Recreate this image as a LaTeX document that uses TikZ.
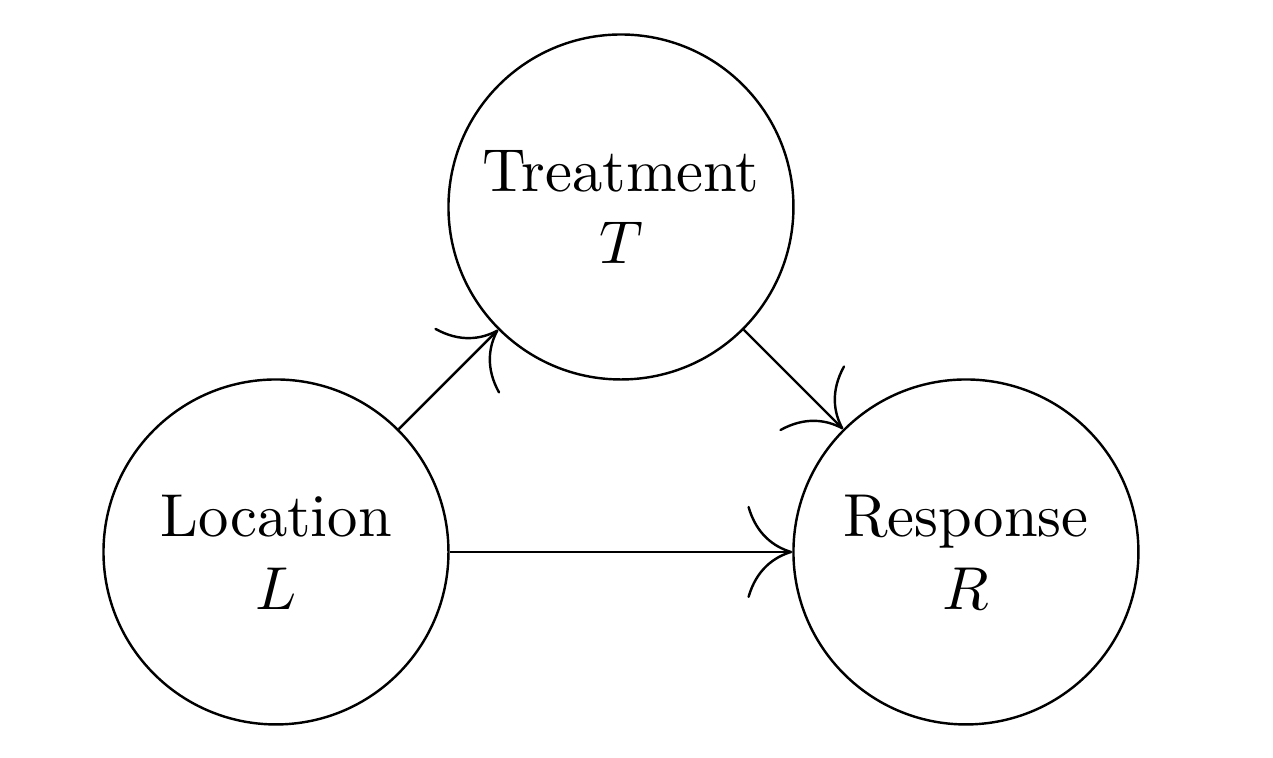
\documentclass[tikz,border=0pt]{standalone}
\usetikzlibrary{arrows.meta}
\tikzset{>={To[length=7.4pt,width=15.2pt]}}
\tikzset{var/.style={draw,circle,minimum size=2cm,inner sep=0pt,align=center}}

\begin{document}
\begin{tikzpicture}
  \useasboundingbox (-1.6,-1.19) rectangle (5.78,3.2);

  \node[var] (loc) at (0,0) {Location\\$L$};
  \node[var] (treat) at (2,2) {Treatment\\$T$};
  \node[var] (resp) at (4,0) {Response\\$R$};

  \draw[->] (loc) -- (treat);
  \draw[->] (treat) -- (resp);
  \draw[->] (loc) -- (resp);
\end{tikzpicture}
\end{document}
